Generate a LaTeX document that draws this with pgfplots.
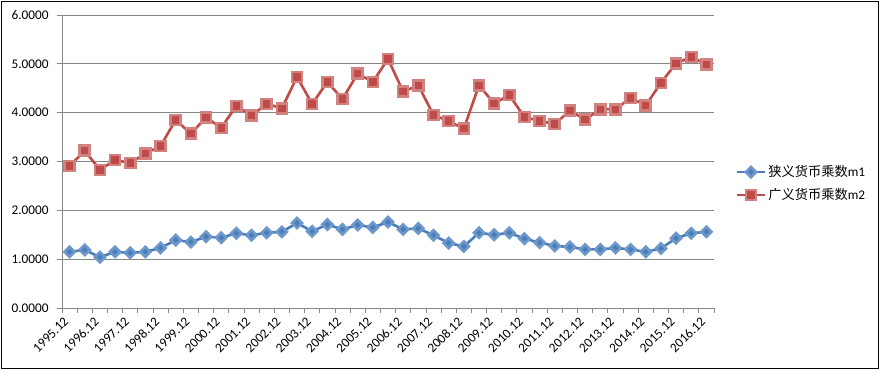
\documentclass[border=0pt]{standalone}
\usepackage{fontspec}
\setmainfont{Carlito}
\newfontfamily\cjk{Noto Sans CJK SC}
\usepackage{pgfplots}
\usepackage{pgfplotstable}
\pgfplotsset{compat=1.18}
\definecolor{mblue}{HTML}{4A7EBB}
\definecolor{mred}{HTML}{BE4B48}
\definecolor{gridgray}{HTML}{868686}
\pgfplotstableread{
x m1 m2
0 1.15 2.91
1 1.19 3.22
2 1.04 2.83
3 1.15 3.03
4 1.13 2.97
5 1.15 3.16
6 1.23 3.32
7 1.39 3.85
8 1.35 3.57
9 1.46 3.90
10 1.44 3.69
11 1.53 4.14
12 1.49 3.94
13 1.54 4.18
14 1.56 4.09
15 1.74 4.73
16 1.57 4.18
17 1.71 4.63
18 1.61 4.28
19 1.70 4.80
20 1.65 4.63
21 1.76 5.10
22 1.61 4.43
23 1.63 4.56
24 1.49 3.95
25 1.33 3.83
26 1.26 3.67
27 1.54 4.56
28 1.50 4.19
29 1.54 4.36
30 1.42 3.91
31 1.34 3.83
32 1.27 3.77
33 1.25 4.04
34 1.20 3.86
35 1.20 4.07
36 1.23 4.07
37 1.20 4.30
38 1.15 4.15
39 1.22 4.61
40 1.43 5.01
41 1.53 5.14
42 1.56 4.99
}\data
\begin{document}
\begin{tikzpicture}
\useasboundingbox (0,0) rectangle (880bp,370bp);
\begin{axis}[
  at={(62bp,62bp)}, anchor=south west,
  scale only axis, width=652bp, height=293bp,
  xmin=-0.5, xmax=42.5, ymin=0, ymax=6,
  axis x line*=bottom, axis y line*=left,
  axis line style={draw=gridgray, line width=0.8bp},
  ytick={0,1,...,6},
  ymajorgrids, grid style={draw=gridgray, line width=0.8bp},
  /pgf/number format/assume math mode=true,
  yticklabel style={/pgf/number format/fixed, /pgf/number format/fixed zerofill, /pgf/number format/precision=4, xshift=-5bp},
  tick label style={font=\fontsize{13.3}{16}\selectfont, text=black},
  xtick={0,2,...,42},
  xticklabels={1995.12,1996.12,1997.12,1998.12,1999.12,2000.12,2001.12,2002.12,2003.12,2004.12,2005.12,2006.12,2007.12,2008.12,2009.12,2010.12,2011.12,2012.12,2013.12,2014.12,2015.12,2016.12},
  xticklabel style={yshift=-4bp, xshift=-1bp, rotate=45, anchor=east},
  major x tick style={draw=none},
  minor xtick={-0.5,0.5,...,42.5},
  tick align=outside, major tick length=5bp, minor tick length=5bp,
  tick style={draw=gridgray, line width=0.8bp},
  legend style={at={(1.033,0.425)}, anchor=west, draw=none, fill=none,
    font=\fontsize{13.3}{16}\selectfont, row sep=6bp, inner sep=0pt},
  legend cell align=left,
  legend image code/.code={\draw[mark repeat=2,mark phase=2,#1] plot coordinates {(0bp,0bp) (14bp,0bp) (28bp,0bp)};},
]
\addplot[mblue, line width=2.6bp, mark=square*, mark size=3.6bp, mark options={rotate=45, solid, fill=mblue, draw=mblue!80!white}] table[x=x, y=m1] {\data};
\addlegendentry{{\cjk 狭义货币乘数}m1}
\addplot[mred, line width=2.6bp, mark=square*, mark size=5bp, mark options={solid, fill=mred, draw=mred!70!white}] table[x=x, y=m2] {\data};
\addlegendentry{{\cjk 广义货币乘数}m2}
\end{axis}
\draw[black, line width=1bp] (1.5bp,1.5bp) rectangle (878.5bp,368.5bp);
\end{tikzpicture}
\end{document}
